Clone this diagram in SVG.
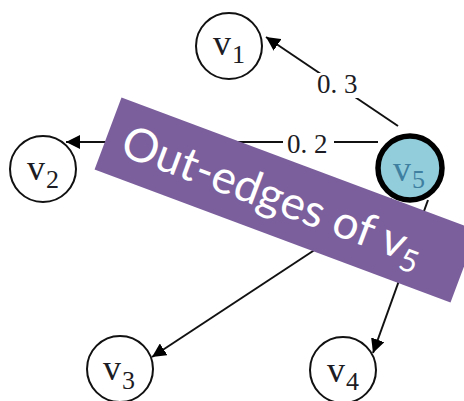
<svg xmlns="http://www.w3.org/2000/svg" width="464" height="401" viewBox="0 0 464 401">
<defs>
<marker id="arr" viewBox="0 0 10 10" refX="10" refY="5" markerWidth="14" markerHeight="14" markerUnits="userSpaceOnUse" orient="auto">
<path d="M0,0 L10,5 L0,10 z" fill="#000"/>
</marker>
<style>
.node{fill:#fff;stroke:#111;stroke-width:2}
.hub{fill:#92cddc;stroke:#000;stroke-width:5.5}
.lbl{font-family:"Liberation Serif","DejaVu Serif",serif;fill:#1c1c24}
.v{font-size:36px}
.sub{font-size:26px}
.edge{stroke:#111;stroke-width:2;fill:none;marker-end:url(#arr)}
.w{font-family:"Liberation Serif","DejaVu Serif",serif;font-size:27px;fill:#1c1c24}
.banner{fill:#7b5f9d}
.bt{font-family:Lato,"Open Sans",sans-serif;fill:#fff}
</style>
</defs>
<rect width="464" height="401" fill="#fff"/>
<g id="connectors">
<line class="edge" x1="398" y1="126" x2="266" y2="37"/>
<line class="edge" x1="378" y1="142" x2="66" y2="142"/>
<line class="edge" x1="392" y1="199" x2="152" y2="357"/>
<line class="edge" x1="428" y1="200" x2="373" y2="353"/>
<rect x="313" y="73" width="51" height="25" fill="#fff"/>
<text class="w" x="317" y="93">0. 3</text>
<rect x="283" y="130" width="51" height="25" fill="#fff"/>
<text class="w" x="287" y="153">0. 2</text>
</g>
<g id="v1">
<circle class="node" cx="229" cy="46" r="33"/>
<text class="lbl" x="213" y="55"><tspan class="v">v</tspan><tspan class="sub" x="232" y="63">1</tspan></text>
</g>
<g id="v2">
<circle class="node" cx="43" cy="169" r="33"/>
<text class="lbl" x="27" y="180"><tspan class="v">v</tspan><tspan class="sub" x="46" y="188">2</tspan></text>
</g>
<g id="v3">
<circle class="node" cx="120" cy="369" r="33"/>
<text class="lbl" x="103" y="380"><tspan class="v">v</tspan><tspan class="sub" x="122" y="389">3</tspan></text>
</g>
<g id="v4">
<circle class="node" cx="343" cy="370" r="33"/>
<text class="lbl" x="327" y="382"><tspan class="v">v</tspan><tspan class="sub" x="346" y="390">4</tspan></text>
</g>
<g id="v5">
<circle class="hub" cx="410" cy="168" r="32"/>
<text class="lbl" x="393" y="181" style="fill:#3f7fa0"><tspan class="v">v</tspan><tspan class="sub" x="412" y="188">5</tspan></text>
</g>
<g id="banner" transform="translate(286,200) rotate(20.5)">
<rect class="banner" x="-190" y="-38.5" width="380" height="77"/>
<text class="bt" x="-173" y="16" font-size="46">Out-edges of v<tspan font-size="31" dy="9">5</tspan></text>
</g>
</svg>
